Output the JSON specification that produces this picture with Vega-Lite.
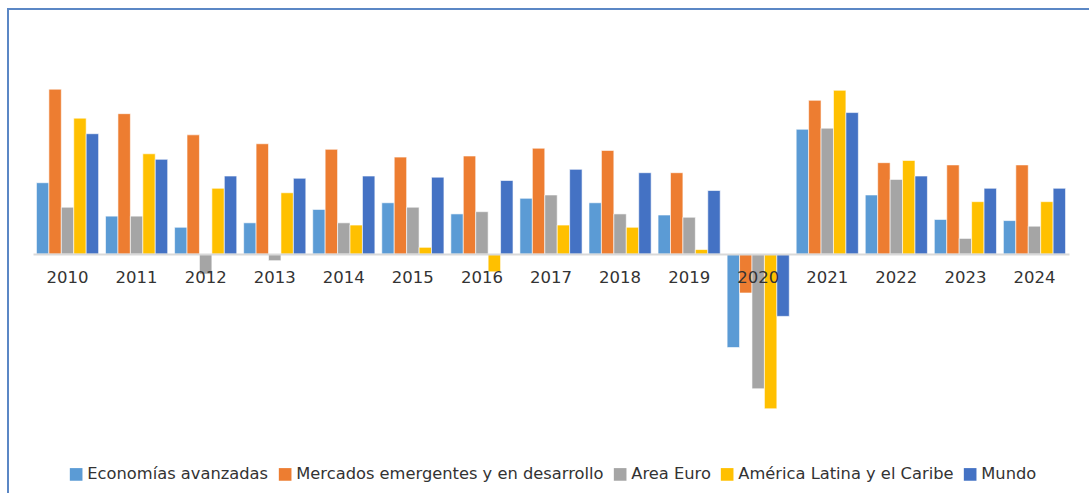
{
  "$schema": "https://vega.github.io/schema/vega-lite/v6.json",
  "width": 1086,
  "height": 490,
  "autosize": {"type": "none"},
  "padding": {"left": 8, "top": 9, "right": -5, "bottom": -6},
  "background": "white",
  "view": {"stroke": "#5B87C5", "strokeWidth": 2, "fill": null},
  "data": {"values": [
    {"year": "2010", "serie": "Economías avanzadas", "value": 3.2},
    {"year": "2010", "serie": "Mercados emergentes y en desarrollo", "value": 7.4},
    {"year": "2010", "serie": "Area Euro", "value": 2.1},
    {"year": "2010", "serie": "América Latina y el Caribe", "value": 6.1},
    {"year": "2010", "serie": "Mundo", "value": 5.4},
    {"year": "2011", "serie": "Economías avanzadas", "value": 1.7},
    {"year": "2011", "serie": "Mercados emergentes y en desarrollo", "value": 6.3},
    {"year": "2011", "serie": "Area Euro", "value": 1.7},
    {"year": "2011", "serie": "América Latina y el Caribe", "value": 4.5},
    {"year": "2011", "serie": "Mundo", "value": 4.25},
    {"year": "2012", "serie": "Economías avanzadas", "value": 1.2},
    {"year": "2012", "serie": "Mercados emergentes y en desarrollo", "value": 5.35},
    {"year": "2012", "serie": "Area Euro", "value": -0.9},
    {"year": "2012", "serie": "América Latina y el Caribe", "value": 2.95},
    {"year": "2012", "serie": "Mundo", "value": 3.5},
    {"year": "2013", "serie": "Economías avanzadas", "value": 1.4},
    {"year": "2013", "serie": "Mercados emergentes y en desarrollo", "value": 4.95},
    {"year": "2013", "serie": "Area Euro", "value": -0.3},
    {"year": "2013", "serie": "América Latina y el Caribe", "value": 2.75},
    {"year": "2013", "serie": "Mundo", "value": 3.4},
    {"year": "2014", "serie": "Economías avanzadas", "value": 2.0},
    {"year": "2014", "serie": "Mercados emergentes y en desarrollo", "value": 4.7},
    {"year": "2014", "serie": "Area Euro", "value": 1.4},
    {"year": "2014", "serie": "América Latina y el Caribe", "value": 1.3},
    {"year": "2014", "serie": "Mundo", "value": 3.5},
    {"year": "2015", "serie": "Economías avanzadas", "value": 2.3},
    {"year": "2015", "serie": "Mercados emergentes y en desarrollo", "value": 4.35},
    {"year": "2015", "serie": "Area Euro", "value": 2.1},
    {"year": "2015", "serie": "América Latina y el Caribe", "value": 0.3},
    {"year": "2015", "serie": "Mundo", "value": 3.45},
    {"year": "2016", "serie": "Economías avanzadas", "value": 1.8},
    {"year": "2016", "serie": "Mercados emergentes y en desarrollo", "value": 4.4},
    {"year": "2016", "serie": "Area Euro", "value": 1.9},
    {"year": "2016", "serie": "América Latina y el Caribe", "value": -0.8},
    {"year": "2016", "serie": "Mundo", "value": 3.3},
    {"year": "2017", "serie": "Economías avanzadas", "value": 2.5},
    {"year": "2017", "serie": "Mercados emergentes y en desarrollo", "value": 4.75},
    {"year": "2017", "serie": "Area Euro", "value": 2.65},
    {"year": "2017", "serie": "América Latina y el Caribe", "value": 1.3},
    {"year": "2017", "serie": "Mundo", "value": 3.8},
    {"year": "2018", "serie": "Economías avanzadas", "value": 2.3},
    {"year": "2018", "serie": "Mercados emergentes y en desarrollo", "value": 4.65},
    {"year": "2018", "serie": "Area Euro", "value": 1.8},
    {"year": "2018", "serie": "América Latina y el Caribe", "value": 1.2},
    {"year": "2018", "serie": "Mundo", "value": 3.65},
    {"year": "2019", "serie": "Economías avanzadas", "value": 1.75},
    {"year": "2019", "serie": "Mercados emergentes y en desarrollo", "value": 3.65},
    {"year": "2019", "serie": "Area Euro", "value": 1.65},
    {"year": "2019", "serie": "América Latina y el Caribe", "value": 0.2},
    {"year": "2019", "serie": "Mundo", "value": 2.85},
    {"year": "2020", "serie": "Economías avanzadas", "value": -4.2},
    {"year": "2020", "serie": "Mercados emergentes y en desarrollo", "value": -1.75},
    {"year": "2020", "serie": "Area Euro", "value": -6.05},
    {"year": "2020", "serie": "América Latina y el Caribe", "value": -6.95},
    {"year": "2020", "serie": "Mundo", "value": -2.8},
    {"year": "2021", "serie": "Economías avanzadas", "value": 5.6},
    {"year": "2021", "serie": "Mercados emergentes y en desarrollo", "value": 6.9},
    {"year": "2021", "serie": "Area Euro", "value": 5.65},
    {"year": "2021", "serie": "América Latina y el Caribe", "value": 7.35},
    {"year": "2021", "serie": "Mundo", "value": 6.35},
    {"year": "2022", "serie": "Economías avanzadas", "value": 2.65},
    {"year": "2022", "serie": "Mercados emergentes y en desarrollo", "value": 4.1},
    {"year": "2022", "serie": "Area Euro", "value": 3.35},
    {"year": "2022", "serie": "América Latina y el Caribe", "value": 4.2},
    {"year": "2022", "serie": "Mundo", "value": 3.5},
    {"year": "2023", "serie": "Economías avanzadas", "value": 1.55},
    {"year": "2023", "serie": "Mercados emergentes y en desarrollo", "value": 4.0},
    {"year": "2023", "serie": "Area Euro", "value": 0.7},
    {"year": "2023", "serie": "América Latina y el Caribe", "value": 2.35},
    {"year": "2023", "serie": "Mundo", "value": 2.95},
    {"year": "2024", "serie": "Economías avanzadas", "value": 1.5},
    {"year": "2024", "serie": "Mercados emergentes y en desarrollo", "value": 4.0},
    {"year": "2024", "serie": "Area Euro", "value": 1.25},
    {"year": "2024", "serie": "América Latina y el Caribe", "value": 2.35},
    {"year": "2024", "serie": "Mundo", "value": 2.95}
  ]},
  "mark": {"type": "bar", "stroke": "white", "strokeWidth": 0.6},
  "encoding": {
    "x": {
      "field": "year", "type": "nominal",
      "scale": {"range": [25, 1061], "paddingInner": 0.1, "paddingOuter": 0.05},
      "axis": {
        "orient": "bottom", "offset": -245, "title": null, "ticks": false,
        "domainColor": "#D9D9D9", "domainWidth": 2,
        "labelFont": "DejaVu Sans", "labelFontSize": 16.5, "labelColor": "#333333",
        "labelPadding": 15, "labelAngle": 0, "zindex": 1
      }
    },
    "xOffset": {
      "field": "serie", "type": "nominal",
      "sort": ["Economías avanzadas", "Mercados emergentes y en desarrollo", "Area Euro", "América Latina y el Caribe", "Mundo"],
      "scale": {"paddingInner": 0, "paddingOuter": 0}
    },
    "y": {
      "field": "value", "type": "quantitative",
      "scale": {"domain": [-11, 11], "nice": false},
      "axis": null
    },
    "color": {
      "field": "serie", "type": "nominal",
      "scale": {
        "domain": ["Economías avanzadas", "Mercados emergentes y en desarrollo", "Area Euro", "América Latina y el Caribe", "Mundo"],
        "range": ["#5B9BD5", "#ED7D31", "#A5A5A5", "#FFC000", "#4472C4"]
      },
      "legend": {
        "orient": "none", "legendX": 60, "legendY": 457, "direction": "horizontal", "columns": 5,
        "title": null, "symbolType": "square", "symbolSize": 160, "symbolStrokeWidth": 0,
        "labelFont": "DejaVu Sans", "labelFontSize": 16.3, "labelColor": "#333333",
        "labelLimit": 0, "columnPadding": 8, "labelOffset": 3
      }
    }
  }
}
